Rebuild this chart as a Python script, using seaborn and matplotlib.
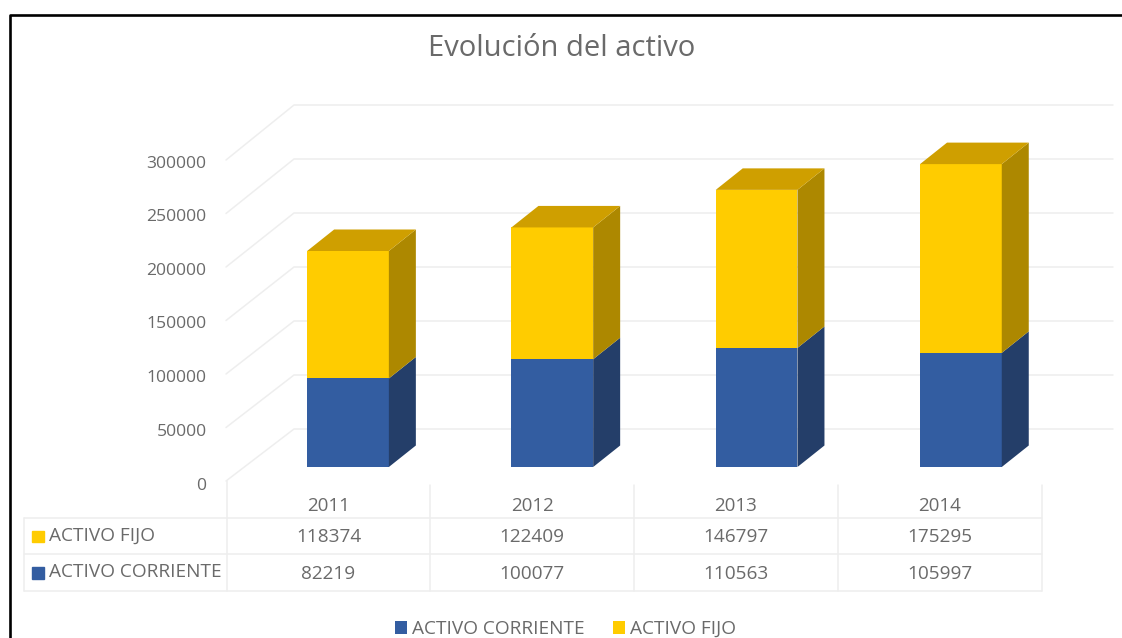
import matplotlib
matplotlib.use("Agg")
import matplotlib.pyplot as plt
import seaborn as sns
from matplotlib.patches import Polygon, Rectangle
from matplotlib.transforms import Affine2D

years = ["2011", "2012", "2013", "2014"]
activo_corriente = [82219, 100077, 110563, 105997]
activo_fijo = [118374, 122409, 146797, 175295]
y_ticks = [0, 50000, 100000, 150000, 200000, 250000, 300000]

W, H = 1122, 638
BLUE, BLUE_SIDE = "#335da1", "#243e69"
YELLOW, YELLOW_SIDE, YELLOW_TOP = "#ffcc00", "#ad8800", "#cf9f00"
GRID = "#eeeeee"
TEXT = "#6a6a6a"

sns.set_theme(style="white")
plt.rcParams["font.family"] = ["Open Sans", "DejaVu Sans"]

fig = plt.figure(figsize=(W / 100, H / 100), dpi=100, facecolor="white")
# pixel coordinates of the picture, y going down, for the frame and table
px = Affine2D().scale(1 / W, -1 / H).translate(0, 1) + fig.transFigure


def px_line(xs, ys, color=GRID, lw=1.1, z=-1):
    fig.add_artist(plt.Line2D(xs, ys, color=color, lw=lw, transform=px, zorder=z))


def px_text(x, y, s, **kw):
    fig.text(x, y, s, transform=px, color=TEXT, va="center", **kw)


# outer frame
px_line([10, 10, W], [H, 14.5, 14.5], color="black", lw=1.9, z=5)

# back wall and side wall lines
for v in y_ticks:
    front = 481 - v * 321 / 300000
    back = 429 - v * 324 / 300000
    px_line([226, 294, 1113], [front, back, back])

# left scale, on the front edge of the floor (labels sit a little under the lines)
ax_left = fig.add_axes([226 / W, 1 - 483.5 / H, 1 / W, 322 / H])
ax_left.patch.set_visible(False)
ax_left.set_ylim(0, 300000)
ax_left.set_xticks([])
ax_left.set_yticks(y_ticks)
ax_left.tick_params(axis="y", length=0, pad=14, labelsize=12.6, labelcolor=TEXT)
sns.despine(ax=ax_left, left=True, bottom=True)

# bars live on the front plane: one category = 204.3 px, 1000 units = 1.0768 px
ax = fig.add_axes([0, 0, 1, 1])
ax.patch.set_visible(False)
sns.barplot(x=years, y=activo_corriente, color=BLUE, width=0.4, saturation=1, linewidth=0,
            edgecolor="none", label="ACTIVO CORRIENTE", ax=ax, zorder=3)
n_blue = len(ax.patches)
sns.barplot(x=years, y=activo_fijo, bottom=activo_corriente, color=YELLOW, width=0.4,
            saturation=1, linewidth=0, edgecolor="none", label="ACTIVO FIJO", ax=ax, zorder=3)
ax.set_xlim(-348 / 204.3, (W - 348) / 204.3)
ax.set_ylim(-(H - 467) / 1.0768 * 1000, 467 / 1.0768 * 1000)
ax.axis("off")

# depth of the bars, same scale as the front plane
dx = 27 / 204.3
dy = 21.5 / 1.0768 * 1000
for i, bar in enumerate(list(ax.patches)):
    x1 = bar.get_x() + bar.get_width()
    x0 = bar.get_x()
    y0 = bar.get_y()
    y1 = y0 + bar.get_height()
    side = BLUE_SIDE if i < n_blue else YELLOW_SIDE
    ax.add_patch(Polygon([(x1, y0), (x1 + dx, y0 + dy), (x1 + dx, y1 + dy), (x1, y1)],
                         facecolor=side, edgecolor="none", zorder=3))
    if i >= n_blue:
        ax.add_patch(Polygon([(x0, y1), (x1, y1), (x1 + dx, y1 + dy), (x0 + dx, y1 + dy)],
                             facecolor=YELLOW_TOP, edgecolor="none", zorder=3))

# legend at the bottom
ax.legend(loc="center", bbox_to_anchor=(565.5, 629), bbox_transform=px, ncol=2, frameon=False,
          fontsize=13.7, labelcolor=TEXT, handlelength=0.63, handleheight=0.63,
          handletextpad=0.26, columnspacing=1.47, borderpad=0)

px_text(562, 49, "Evolución del activo", ha="center", fontsize=21)

# data table under the chart
for y in [518, 553.5, 591]:
    px_line([24, 1042], [y, y])
px_line([24, 24], [518, 591])
px_line([227, 227], [481, 591])
for x in [430, 634, 838, 1042]:
    px_line([x, x], [485, 591])

for i, year in enumerate(years):
    cx = 328.5 + 203.7 * i
    px_text(cx, 506, year, ha="center", fontsize=13.5)
    px_text(cx, 537, str(activo_fijo[i]), ha="center", fontsize=13.7)
    px_text(cx, 574, str(activo_corriente[i]), ha="center", fontsize=13.7)

fig.add_artist(Rectangle((32.5, 530.5), 12, 11, color=YELLOW, transform=px))
fig.add_artist(Rectangle((32.5, 567), 12, 12, color=BLUE, transform=px))
px_text(49, 536, "ACTIVO FIJO", fontsize=13.7)
px_text(49, 572, "ACTIVO CORRIENTE", fontsize=13.7)

fig.savefig("out.png", dpi=100)
